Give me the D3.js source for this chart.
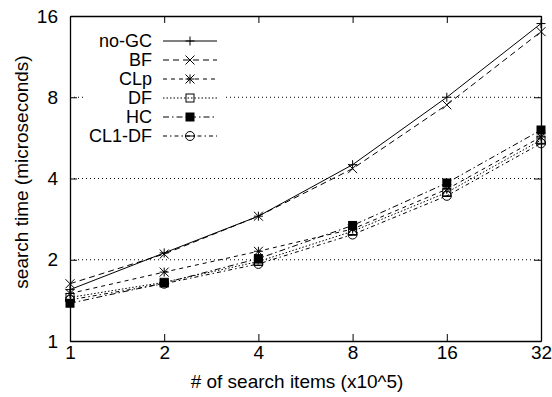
<!DOCTYPE html>
<html>
<head>
<meta charset="utf-8">
<script src="https://cdn.jsdelivr.net/npm/d3@7"></script>
<style>
	body { margin: 0; background: #fff; }
	svg { display: block; font-family: 'Liberation Sans', Arial, sans-serif; }
</style>
</head>
<body>
<div id="chart"></div>
<script>
// Data
const items = [ 1, 2, 4, 8, 16, 32 ];
const yTicks = [ 1, 2, 4, 8, 16 ];
const seriesNames = [ 'no-GC', 'BF', 'CLp', 'DF', 'HC', 'CL1-DF' ];
const noGC = [ 1.55, 2.12, 2.9, 4.5, 8.0, 15.0 ];
const bf = [ 1.63, 2.1, 2.9, 4.35, 7.5, 14.0 ];
const clp = [ 1.5, 1.8, 2.15, 2.6, 3.65, 5.7 ];
const df = [ 1.45, 1.65, 1.97, 2.55, 3.55, 5.55 ];
const hc = [ 1.38, 1.64, 2.02, 2.68, 3.85, 6.05 ];
const cl1df = [ 1.42, 1.63, 1.93, 2.48, 3.45, 5.4 ];

const seriesValues = [ noGC, bf, clp, df, hc, cl1df ];

// Styles per series
const dashes = [ null, '6,4', '4,4', '1.5,2', '6,3,1.5,3', '4,3,1.5,3' ];
const markers = [ 'plus', 'cross', 'star', 'square', 'filled', 'circle' ];

const width = 552;
const height = 397;
const margin = { top: 16, right: 11, bottom: 56, left: 70 };

const svg = d3.select( '#chart' )
	.append( 'svg' )
	.attr( 'width', width )
	.attr( 'height', height );

const x = d3.scaleLog().base( 2 )
	.domain( [ 1, 32 ] )
	.range( [ margin.left, width - margin.right ] );

const y = d3.scaleLog().base( 2 )
	.domain( [ 1, 16 ] )
	.range( [ height - margin.bottom, margin.top ] );

// Horizontal dotted grid
svg.append( 'g' )
	.selectAll( 'line' )
	.data( yTicks.filter( ( d ) => d > 1 && d < 16 ) )
	.enter()
	.append( 'line' )
	.attr( 'x1', x.range()[ 0 ] )
	.attr( 'x2', x.range()[ 1 ] )
	.attr( 'y1', ( d ) => y( d ) )
	.attr( 'y2', ( d ) => y( d ) )
	.attr( 'stroke', '#000' )
	.attr( 'stroke-width', 1 )
	.attr( 'stroke-dasharray', '1,3' );

// Axes (mirrored ticks on all four sides)
const tickSize = 7;
const fmt = ( d ) => String( d );

svg.append( 'g' )
	.attr( 'transform', `translate(0,${ y.range()[ 0 ] })` )
	.call( d3.axisBottom( x ).tickValues( items ).tickFormat( fmt ).tickSizeInner( -tickSize ).tickSizeOuter( 0 ).tickPadding( 5 ) );

svg.append( 'g' )
	.attr( 'transform', `translate(0,${ y.range()[ 1 ] })` )
	.call( d3.axisTop( x ).tickValues( items ).tickFormat( '' ).tickSizeInner( -tickSize ).tickSizeOuter( 0 ) );

svg.append( 'g' )
	.attr( 'transform', `translate(${ x.range()[ 0 ] },0)` )
	.call( d3.axisLeft( y ).tickValues( yTicks ).tickFormat( fmt ).tickSizeInner( -tickSize ).tickSizeOuter( 0 ).tickPadding( 12 ) );

svg.append( 'g' )
	.attr( 'transform', `translate(${ x.range()[ 1 ] },0)` )
	.call( d3.axisRight( y ).tickValues( yTicks ).tickFormat( '' ).tickSizeInner( -tickSize ).tickSizeOuter( 0 ) );

svg.selectAll( '.domain' ).attr( 'stroke', '#000' ).attr( 'stroke-width', 1.3 );
svg.selectAll( '.tick line' ).attr( 'stroke', '#000' );
svg.selectAll( '.tick text' )
	.style( 'font-size', '19px' )
	.style( 'font-family', "'Liberation Sans', Arial, sans-serif" )
	.attr( 'fill', '#000' );

// Axis titles
svg.append( 'text' )
	.attr( 'x', 297 )
	.attr( 'y', 388 )
	.attr( 'text-anchor', 'middle' )
	.style( 'font-size', '19px' )
	.text( '# of search items (x10^5)' );

svg.append( 'text' )
	.attr( 'transform', 'translate(28,172) rotate(-90)' )
	.attr( 'text-anchor', 'middle' )
	.style( 'font-size', '19px' )
	.text( 'search time (microseconds)' );

// Marker drawing
function drawMarker( g, type, cx, cy ) {
	const s = 4.5;
	if ( type === 'plus' ) {
		g.append( 'path' ).attr( 'd', `M${ cx - s },${ cy }H${ cx + s }M${ cx },${ cy - s }V${ cy + s }` )
			.attr( 'stroke', '#000' ).attr( 'fill', 'none' );
	} else if ( type === 'cross' ) {
		g.append( 'path' ).attr( 'd', `M${ cx - s },${ cy - s }L${ cx + s },${ cy + s }M${ cx - s },${ cy + s }L${ cx + s },${ cy - s }` )
			.attr( 'stroke', '#000' ).attr( 'fill', 'none' );
	} else if ( type === 'star' ) {
		g.append( 'path' ).attr( 'd', `M${ cx - s },${ cy }H${ cx + s }M${ cx },${ cy - s }V${ cy + s }M${ cx - s },${ cy - s }L${ cx + s },${ cy + s }M${ cx - s },${ cy + s }L${ cx + s },${ cy - s }` )
			.attr( 'stroke', '#000' ).attr( 'fill', 'none' );
	} else if ( type === 'square' ) {
		g.append( 'rect' ).attr( 'x', cx - 4 ).attr( 'y', cy - 4 ).attr( 'width', 8 ).attr( 'height', 8 )
			.attr( 'stroke', '#000' ).attr( 'fill', 'none' );
	} else if ( type === 'filled' ) {
		g.append( 'rect' ).attr( 'x', cx - 4.5 ).attr( 'y', cy - 4.5 ).attr( 'width', 9 ).attr( 'height', 9 )
			.attr( 'fill', '#000' );
	} else if ( type === 'circle' ) {
		g.append( 'circle' ).attr( 'cx', cx ).attr( 'cy', cy ).attr( 'r', 4.5 )
			.attr( 'stroke', '#000' ).attr( 'fill', 'none' );
		g.append( 'line' ).attr( 'x1', cx - 4.5 ).attr( 'x2', cx + 4.5 ).attr( 'y1', cy ).attr( 'y2', cy )
			.attr( 'stroke', '#000' );
	}
}

const line = d3.line()
	.x( ( d, i ) => x( items[ i ] ) )
	.y( ( d ) => y( d ) );

// Series lines and markers
seriesValues.forEach( ( vals, k ) => {
	const g = svg.append( 'g' );
	g.append( 'path' )
		.attr( 'd', line( vals ) )
		.attr( 'fill', 'none' )
		.attr( 'stroke', '#000' )
		.attr( 'stroke-width', 1 )
		.attr( 'stroke-dasharray', dashes[ k ] );
	vals.forEach( ( v, i ) => drawMarker( g, markers[ k ], x( items[ i ] ), y( v ) ) );
} );

// Legend with white background
const legend = svg.append( 'g' );
legend.append( 'rect' )
	.attr( 'x', 84 )
	.attr( 'y', 29 )
	.attr( 'width', 140 )
	.attr( 'height', 117 )
	.attr( 'fill', '#fff' );

seriesNames.forEach( ( name, k ) => {
	const ly = 41 + k * 19;
	legend.append( 'text' )
		.attr( 'x', 152 )
		.attr( 'y', ly + 6 )
		.attr( 'text-anchor', 'end' )
		.style( 'font-size', '18px' )
		.text( name );
	legend.append( 'line' )
		.attr( 'x1', 163 )
		.attr( 'x2', 217 )
		.attr( 'y1', ly )
		.attr( 'y2', ly )
		.attr( 'stroke', '#000' )
		.attr( 'stroke-dasharray', dashes[ k ] );
	drawMarker( legend, markers[ k ], 190, ly );
} );
</script>
</body>
</html>
